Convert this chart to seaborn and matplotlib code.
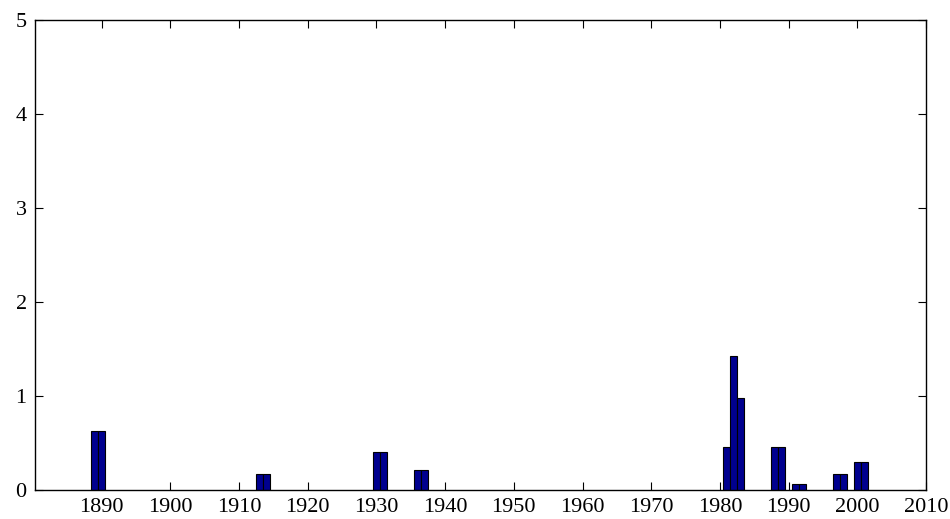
import numpy as np
import pandas as pd
import matplotlib
matplotlib.use("Agg")
import matplotlib.pyplot as plt
import seaborn as sns

years = [1889, 1890, 1913, 1914, 1930, 1931, 1936, 1937,
         1981, 1982, 1983, 1988, 1989, 1991, 1992,
         1997, 1998, 2000, 2001]
values = [0.63, 0.63, 0.17, 0.17, 0.40, 0.40, 0.21, 0.21,
          0.46, 1.43, 0.98, 0.46, 0.46, 0.065, 0.065,
          0.17, 0.17, 0.30, 0.30]
x_ticks = list(range(1890, 2011, 10))
y_ticks = [0, 1, 2, 3, 4, 5]

df = pd.DataFrame({"year": years, "value": values})

sns.set_style("white")
plt.rcParams['font.family'] = ['Liberation Serif', 'DejaVu Serif']

fig = plt.figure(figsize=(9.5, 5.19), dpi=100)
ax = fig.add_axes([35 / 950, 29 / 519, 891 / 950, 470 / 519])

sns.barplot(data=df, x="year", y="value", native_scale=True, width=1,
            color="#00008f", saturation=1, edgecolor="black", linewidth=0.8, ax=ax)

ax.set_xlim(1880.3, 2010)
ax.set_ylim(0, 5)
ax.set_xticks(x_ticks)
ax.set_yticks(y_ticks)
ax.set_xlabel("")
ax.set_ylabel("")
ax.tick_params(direction="in", length=6, width=0.8, labelsize=16,
               labelcolor="black", color="black", pad=6,
               top=True, right=True, bottom=True, left=True)
for s in ax.spines.values():
    s.set_visible(True)
    s.set_color("black")
    s.set_linewidth(1.0)

fig.savefig("out.png", dpi=100)
